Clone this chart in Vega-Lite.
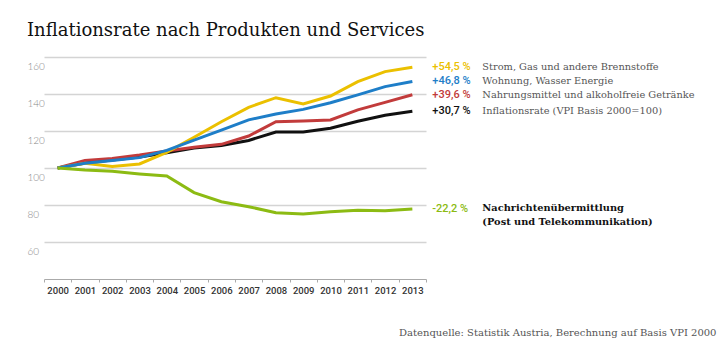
{
  "$schema": "https://vega.github.io/schema/vega-lite/v6.json",
  "width": 399,
  "height": 222,
  "autosize": {"type": "none"},
  "padding": {"left": 27, "top": 57, "right": 294, "bottom": 63},
  "background": "white",
  "title": {
    "text": "Inflationsrate nach Produkten und Services",
    "anchor": "start",
    "frame": "group",
    "offset": 3,
    "baseline": "alphabetic",
    "font": "DejaVu Serif",
    "fontSize": 18,
    "fontWeight": "normal",
    "color": "#111111"
  },
  "config": {"view": {"stroke": null}},
  "datasets": {
    "series": [
      {"series": "vpi", "year": 2000, "value": 100},
      {"series": "vpi", "year": 2001, "value": 102.7},
      {"series": "vpi", "year": 2002, "value": 104.3},
      {"series": "vpi", "year": 2003, "value": 105.9},
      {"series": "vpi", "year": 2004, "value": 108.3},
      {"series": "vpi", "year": 2005, "value": 110.8},
      {"series": "vpi", "year": 2006, "value": 112.2},
      {"series": "vpi", "year": 2007, "value": 114.9},
      {"series": "vpi", "year": 2008, "value": 119.4},
      {"series": "vpi", "year": 2009, "value": 119.5},
      {"series": "vpi", "year": 2010, "value": 121.5},
      {"series": "vpi", "year": 2011, "value": 125.3},
      {"series": "vpi", "year": 2012, "value": 128.5},
      {"series": "vpi", "year": 2013, "value": 130.7},
      {"series": "nahrung", "year": 2000, "value": 100},
      {"series": "nahrung", "year": 2001, "value": 104},
      {"series": "nahrung", "year": 2002, "value": 105.2},
      {"series": "nahrung", "year": 2003, "value": 107},
      {"series": "nahrung", "year": 2004, "value": 109.2},
      {"series": "nahrung", "year": 2005, "value": 111.2},
      {"series": "nahrung", "year": 2006, "value": 112.8},
      {"series": "nahrung", "year": 2007, "value": 117.3},
      {"series": "nahrung", "year": 2008, "value": 125},
      {"series": "nahrung", "year": 2009, "value": 125.4},
      {"series": "nahrung", "year": 2010, "value": 126},
      {"series": "nahrung", "year": 2011, "value": 131.4},
      {"series": "nahrung", "year": 2012, "value": 135.5},
      {"series": "nahrung", "year": 2013, "value": 139.6},
      {"series": "strom", "year": 2000, "value": 100},
      {"series": "strom", "year": 2001, "value": 102.5},
      {"series": "strom", "year": 2002, "value": 100.8},
      {"series": "strom", "year": 2003, "value": 102.2},
      {"series": "strom", "year": 2004, "value": 108.5},
      {"series": "strom", "year": 2005, "value": 116.6},
      {"series": "strom", "year": 2006, "value": 125},
      {"series": "strom", "year": 2007, "value": 132.8},
      {"series": "strom", "year": 2008, "value": 138},
      {"series": "strom", "year": 2009, "value": 134.6},
      {"series": "strom", "year": 2010, "value": 138.9},
      {"series": "strom", "year": 2011, "value": 146.7},
      {"series": "strom", "year": 2012, "value": 152.1},
      {"series": "strom", "year": 2013, "value": 154.5},
      {"series": "wohnung", "year": 2000, "value": 100},
      {"series": "wohnung", "year": 2001, "value": 102.6},
      {"series": "wohnung", "year": 2002, "value": 104},
      {"series": "wohnung", "year": 2003, "value": 105.6},
      {"series": "wohnung", "year": 2004, "value": 109.5},
      {"series": "wohnung", "year": 2005, "value": 115.1},
      {"series": "wohnung", "year": 2006, "value": 120.5},
      {"series": "wohnung", "year": 2007, "value": 126},
      {"series": "wohnung", "year": 2008, "value": 129.2},
      {"series": "wohnung", "year": 2009, "value": 131.7},
      {"series": "wohnung", "year": 2010, "value": 135.3},
      {"series": "wohnung", "year": 2011, "value": 139.5},
      {"series": "wohnung", "year": 2012, "value": 144},
      {"series": "wohnung", "year": 2013, "value": 146.8},
      {"series": "nachricht", "year": 2000, "value": 100},
      {"series": "nachricht", "year": 2001, "value": 98.9},
      {"series": "nachricht", "year": 2002, "value": 98.2},
      {"series": "nachricht", "year": 2003, "value": 96.8},
      {"series": "nachricht", "year": 2004, "value": 95.7},
      {"series": "nachricht", "year": 2005, "value": 86.7},
      {"series": "nachricht", "year": 2006, "value": 81.8},
      {"series": "nachricht", "year": 2007, "value": 79.1},
      {"series": "nachricht", "year": 2008, "value": 75.8},
      {"series": "nachricht", "year": 2009, "value": 75.1},
      {"series": "nachricht", "year": 2010, "value": 76.4},
      {"series": "nachricht", "year": 2011, "value": 77.1},
      {"series": "nachricht", "year": 2012, "value": 76.9},
      {"series": "nachricht", "year": 2013, "value": 77.8}
    ],
    "labels": [
      {"series": "strom", "year": 2013, "value": 154.5, "pct": "+54,5 %", "name": "Strom, Gas und andere Brennstoffe"},
      {"series": "wohnung", "year": 2013, "value": 146.8, "pct": "+46,8 %", "name": "Wohnung, Wasser Energie"},
      {"series": "nahrung", "year": 2013, "value": 139.6, "pct": "+39,6 %", "name": "Nahrungsmittel und alkoholfreie Getränke"},
      {"series": "vpi", "year": 2013, "value": 130.7, "pct": "+30,7 %", "name": "Inflationsrate (VPI Basis 2000=100)"},
      {"series": "nachricht", "year": 2013, "value": 77.8, "pct": "-22,2 %", "name": ["Nachrichtenübermittlung", "(Post und Telekommunikation)"]}
    ]
  },
  "layer": [
    {
      "data": {"name": "series"},
      "mark": {"type": "line", "strokeWidth": 3},
      "encoding": {
        "x": {
          "field": "year",
          "type": "ordinal",
          "scale": {"type": "band", "range": [17, 399], "paddingInner": 0, "paddingOuter": 0},
          "axis": {
            "labelAngle": 0,
            "labelFont": "Roboto",
            "labelFontSize": 9.5,
            "labelFontWeight": 500,
            "labelColor": "#333333",
            "labelPadding": 3,
            "tickBand": "extent",
            "tickSize": 3,
            "tickColor": "#aaaaaa",
            "domainColor": "#aaaaaa",
            "grid": false,
            "title": "Datenquelle: Statistik Austria, Berechnung auf Basis VPI 2000",
            "titleX": 689,
            "titleY": 56,
            "titleAlign": "right",
            "titleAnchor": "end",
            "titleBaseline": "alphabetic",
            "titleFont": "DejaVu Serif",
            "titleFontSize": 10,
            "titleFontWeight": "normal",
            "titleColor": "#555555"
          }
        },
        "y": {
          "field": "value",
          "type": "quantitative",
          "scale": {"domain": [40, 160], "nice": false, "zero": false},
          "axis": {
            "values": [60, 80, 100, 120, 140, 160],
            "domain": false,
            "ticks": false,
            "tickSize": 0,
            "grid": true,
            "gridColor": "#d4d4d4",
            "gridWidth": 1.5,
            "labelAlign": "left",
            "labelBaseline": "top",
            "labelPadding": 0,
            "labelOffset": 4,
            "labelFont": "Lato",
            "labelFontWeight": 300,
            "labelFontSize": 10,
            "labelColor": "#888888",
            "title": null
          }
        },
        "color": {
          "field": "series",
          "type": "nominal",
          "scale": {
            "domain": ["strom", "wohnung", "nahrung", "vpi", "nachricht"],
            "range": ["#ebc000", "#1e7ec8", "#c23b3b", "#111111", "#8cbb13"]
          },
          "legend": null
        }
      }
    },
    {
      "data": {"name": "labels"},
      "mark": {"type": "text", "align": "left", "baseline": "middle", "dx": 20, "font": "Roboto", "fontSize": 11, "fontWeight": 500},
      "encoding": {
        "x": {"field": "year", "type": "ordinal"},
        "y": {"field": "value", "type": "quantitative"},
        "text": {"field": "pct", "type": "nominal"},
        "color": {"field": "series", "type": "nominal", "legend": null}
      }
    },
    {
      "data": {"name": "labels"},
      "transform": [{"filter": "datum.series !== 'nachricht'"}],
      "mark": {"type": "text", "align": "left", "baseline": "middle", "dx": 70, "font": "DejaVu Serif", "fontSize": 9.8, "color": "#555555"},
      "encoding": {
        "x": {"field": "year", "type": "ordinal"},
        "y": {"field": "value", "type": "quantitative"},
        "text": {"field": "name", "type": "nominal"}
      }
    },
    {
      "data": {"name": "labels"},
      "transform": [{"filter": "datum.series === 'nachricht'"}],
      "mark": {"type": "text", "align": "left", "baseline": "top", "dx": 70, "dy": -6, "lineHeight": 14, "font": "DejaVu Serif", "fontSize": 9.8, "fontWeight": "bold", "color": "#111111"},
      "encoding": {
        "x": {"field": "year", "type": "ordinal"},
        "y": {"field": "value", "type": "quantitative"},
        "text": {"field": "name", "type": "nominal"}
      }
    }
  ]
}
